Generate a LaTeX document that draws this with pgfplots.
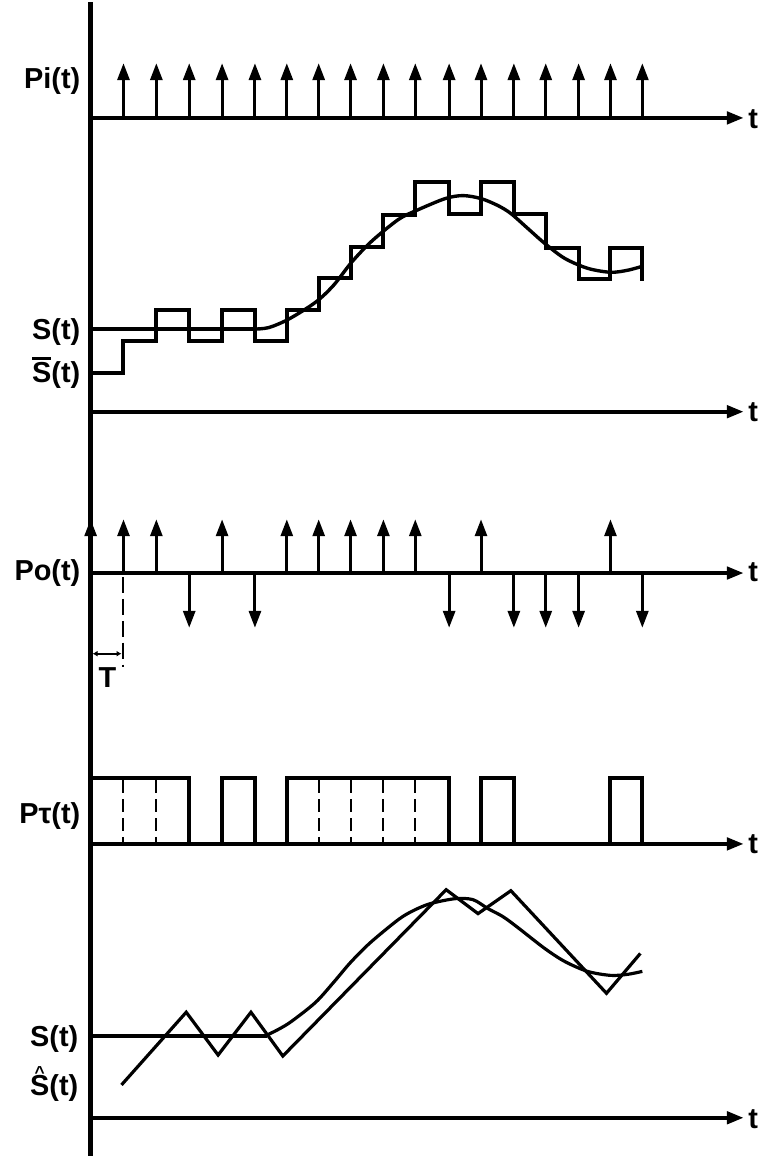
\documentclass[border=0pt]{standalone}
\usepackage{fontspec}
\setmainfont{Liberation Sans}
\usepackage{pgfplots}
\pgfplotsset{compat=1.18}
\usetikzlibrary{arrows.meta}
\tikzset{
  ar/.style={-{Triangle[length=8.5pt,width=6pt]}},
  lab/.style={anchor=base east, font=\fontsize{14.5}{17}\selectfont\bfseries, inner sep=0pt},
  tlab/.style={anchor=base west, font=\fontsize{14.5}{17}\selectfont\bfseries, inner sep=0pt},
}
\begin{document}
\begin{tikzpicture}
\begin{axis}[
  scale only axis, width=384pt, height=579pt,
  xmin=0, xmax=768, ymin=0, ymax=1158, y dir=reverse,
  hide axis, clip=false,
  every axis plot/.append style={black, mark=none, line join=miter},
]
% bounding corners
\addplot[draw=none, forget plot] coordinates {(0,0) (768,1158)};

% vertical axis
\addplot[line width=2.4pt] coordinates {(91,0) (91,1158)};

% ---------- Panel 1: Pi(t) ----------
\addplot[line width=2.2pt, ar] coordinates {(91,116) (747,116)};
\addplot[line width=1.5pt, ar, quiver={u=0, v=\thisrow{v}}] table {
x y v
124 116 -55
157 116 -55
190 116 -55
223 116 -55
256 116 -55
288 116 -55
320 116 -55
352 116 -55
385 116 -55
417 116 -55
451 116 -55
483 116 -55
516 116 -55
548 116 -55
581 116 -55
613 116 -55
645 116 -55
};
\node[lab] at (axis cs:81,86) {Pi(t)};
\node[tlab] at (axis cs:751,127) {t};

% ---------- Panel 2: S(t) and staircase ----------
\addplot[line width=2.2pt, ar] coordinates {(91,411) (747,411)};
\addplot[line width=1.7pt] coordinates {(91,328) (258,328)};
\addplot[line width=1.7pt, smooth] coordinates {
(256,328) (270,326.5) (290,318) (317,301) (335,284) (353,261) (373,240)
(400,218) (418,209) (447,197) (465,194) (483,197) (500,204) (513,212)
(530,227) (547,242) (567,257) (590,267) (613,271) (630,269) (645,265)};
\addplot[line width=2pt] coordinates {
(91,372) (124,372) (124,340) (157,340) (157,309) (190,309) (190,340)
(223,340) (223,309) (256,309) (256,340) (288,340) (288,309) (320,309)
(320,277) (352,277) (352,246) (385,246) (385,213) (417,213) (417,180)
(451,180) (451,212) (483,212) (483,180) (516,180) (516,212) (548,212)
(548,247) (581,247) (581,278) (613,278) (613,247) (645,247) (645,280)};
\node[lab] at (axis cs:81,338) {S(t)};
\node[lab] at (axis cs:81,382) {\makebox[0pt][l]{\raisebox{0.8em}{\rule{0.667em}{0.1em}}}S(t)};
\node[tlab] at (axis cs:751,421) {t};

% ---------- Panel 3: Po(t) ----------
\addplot[line width=2.2pt, ar] coordinates {(91,573) (747,573)};
\addplot[line width=1.5pt, ar, quiver={u=0, v=\thisrow{v}}] table {
x y v
91 573 -54
124 573 -54
157 573 -54
223 573 -54
288 573 -54
320 573 -54
352 573 -54
385 573 -54
417 573 -54
483 573 -54
613 573 -54
190 575 53
256 575 53
451 575 53
516 575 53
548 575 53
581 575 53
645 575 53
};
\addplot[line width=1pt, dash pattern=on 8pt off 3pt] coordinates {(124,577) (124,667)};
\addplot[line width=0.8pt, {Latex[length=2.5pt,width=3pt]}-{Latex[length=2.5pt,width=3pt]}] coordinates {(93,654) (122,654)};
\node[lab] at (axis cs:81,580) {Po(t)};
\node[anchor=base, font=\fontsize{14.5}{17}\selectfont\bfseries, inner sep=0pt] at (axis cs:108,688) {T};
\node[tlab] at (axis cs:751,581) {t};

% ---------- Panel 4: Ptau(t) ----------
\addplot[line width=2.2pt, ar] coordinates {(91,845) (747,845)};
\addplot[line width=2pt] coordinates {
(91,779) (190,779) (190,845) (223,845) (223,779) (256,779) (256,845)
(288,845) (288,779) (451,779) (451,845) (483,845) (483,779) (516,779)
(516,845) (613,845) (613,779) (645,779) (645,845)};
\addplot[line width=1pt, dash pattern=on 6.5pt off 3pt] coordinates {(124,781) (124,843)};
\addplot[line width=1pt, dash pattern=on 6.5pt off 3pt] coordinates {(157,781) (157,843)};
\addplot[line width=1pt, dash pattern=on 6.5pt off 3pt] coordinates {(320,781) (320,843)};
\addplot[line width=1pt, dash pattern=on 6.5pt off 3pt] coordinates {(352,781) (352,843)};
\addplot[line width=1pt, dash pattern=on 6.5pt off 3pt] coordinates {(385,781) (385,843)};
\addplot[line width=1pt, dash pattern=on 6.5pt off 3pt] coordinates {(417,781) (417,843)};
\node[lab] at (axis cs:81,825) {Pτ(t)};
\node[tlab] at (axis cs:751,855) {t};

% ---------- Panel 5: S(t) and reconstruction ----------
\addplot[line width=2.2pt, ar] coordinates {(91,1120) (747,1120)};
\addplot[line width=2pt] coordinates {(91,1038) (268,1038)};
\addplot[line width=1.6pt, smooth] coordinates {
(266,1038) (280,1031) (293,1023) (317,1004) (335,984) (352,964) (372,944)
(400,921) (415,912) (432,905) (457,900) (475,901) (490,910) (505,918)
(520,929) (547,950) (567,963) (590,973) (613,977) (630,976) (645,973)};
\addplot[line width=1.6pt] coordinates {
(122,1087) (187,1014) (219,1057) (252,1014) (284,1058) (448,891)
(480,915) (513,892) (609,995) (643,955)};
\node[lab] at (axis cs:79,1048) {S(t)};
\node[lab] at (axis cs:79,1098) {\makebox[0pt][l]{\makebox[0.667em][c]{\raisebox{0.6em}{\fontsize{8.7}{9}\selectfont\textasciicircum}}}S(t)};
\node[tlab] at (axis cs:751,1131) {t};
\end{axis}
\end{tikzpicture}
\end{document}
